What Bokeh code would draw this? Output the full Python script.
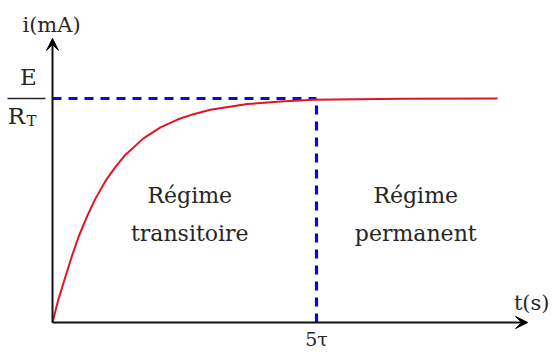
from bokeh.plotting import figure
from bokeh.models import Arrow, VeeHead, Label, Range1d
from bokeh.embed import file_html
from bokeh.resources import INLINE

# Charging current, time in units of tau, current in units of E/R_T
t_tau = [0, 0.108, 0.246, 0.373, 0.498, 0.657, 0.814, 1.004, 1.193, 1.383, 1.723,
         2.045, 2.367, 2.67, 2.99, 3.69, 4.32, 4.94, 6.6, 8.43]
i_norm = [0, 0.10, 0.205, 0.30, 0.385, 0.475, 0.553, 0.632, 0.695, 0.749, 0.822,
          0.871, 0.906, 0.930, 0.950, 0.975, 0.987, 0.994, 0.999, 1.0]

t_steady = 5.0          # 5 tau: end of the transient
i_final = 1.0           # E / R_T
t_axis_end = 9.0
i_axis_end = 1.268

x_label = "t(s)"
y_label = "i(mA)"
tick_label = "5τ"
zone_left = ["Régime", "transitoire"]
zone_right = ["Régime", "permanent"]

FONT = "DejaVu Serif"
INK = "#262626"

p = figure(width=555, height=352, output_backend="svg", toolbar_location=None,
           min_border=0, x_range=Range1d(-0.985, 9.527), y_range=Range1d(-0.134, 1.4375))
p.axis.visible = False
p.grid.visible = False
p.outline_line_color = None
p.background_fill_color = "white"

# dashed guides
p.line([0, t_steady], [i_final, i_final], line_color="#0a0ad8", line_width=3.2, line_dash="9 7")
p.line([t_steady, t_steady], [0, i_final], line_color="#0a0ad8", line_width=3.2, line_dash="9 7")

# response curve
p.line(t_tau, i_norm, line_color="#e3141f", line_width=2)

# axes with arrow heads
p.add_layout(Arrow(end=VeeHead(size=12, fill_color="black", line_color="black"),
                   x_start=0, y_start=0, x_end=t_axis_end, y_end=0, line_width=2, line_color="#111111"))
p.add_layout(Arrow(end=VeeHead(size=12, fill_color="black", line_color="black"),
                   x_start=0, y_start=0, x_end=0, y_end=i_axis_end, line_width=2, line_color="#111111"))

def lab(x, y, text, size="21px", xo=0, yo=0):
    p.add_layout(Label(x=x, y=y, text=text, text_font=FONT, text_font_size=size,
                       text_align="center", text_baseline="middle", text_color=INK,
                       x_offset=xo, y_offset=yo))

lab(0, i_axis_end, y_label, xo=-1, yo=13)
lab(t_axis_end, 0, x_label, xo=4, yo=19)
lab(t_steady, 0, tick_label, size="19px", yo=-17)

# E / R_T fraction
lab(0, i_final, "E", size="23px", xo=-24, yo=21)
p.segment(x0=[-0.852], y0=[i_final], x1=[-0.133], y1=[i_final], line_color=INK, line_width=1.5)
lab(0, i_final, "R", size="23px", xo=-36, yo=-18)
lab(0, i_final, "T", size="15px", xo=-21, yo=-23)

# zone labels
x_left = 2.6
x_right = 6.88
lab(x_left, 0.5, zone_left[0], size="22px", yo=15)
lab(x_left, 0.5, zone_left[1], size="22px", yo=-23)
lab(x_right, 0.5, zone_right[0], size="22px", yo=15)
lab(x_right, 0.5, zone_right[1], size="22px", yo=-23)

open("out.html", "w").write(file_html(p, INLINE))
